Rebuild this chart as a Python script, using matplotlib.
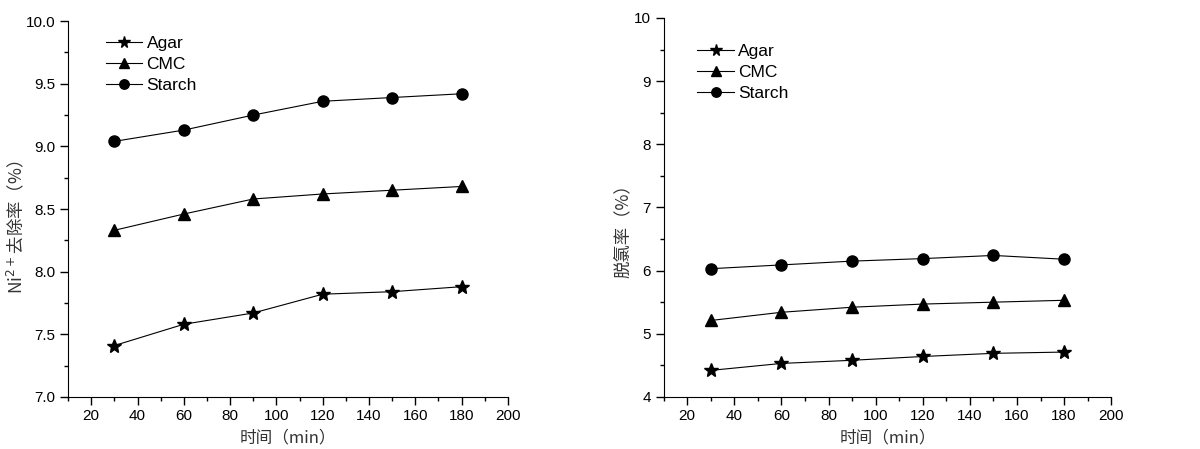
import matplotlib
matplotlib.use("Agg")
import matplotlib.pyplot as plt
from matplotlib.ticker import MultipleLocator

plt.rcParams['font.family'] = ['Liberation Sans', 'DejaVu Sans']

# --- datos ---
time_min = [30, 60, 90, 120, 150, 180]
series_names = ["Agar", "CMC", "Starch"]

ni_agar = [7.41, 7.58, 7.67, 7.82, 7.84, 7.88]
ni_cmc = [8.33, 8.46, 8.58, 8.62, 8.65, 8.68]
ni_starch = [9.04, 9.13, 9.25, 9.36, 9.39, 9.42]

cl_agar = [4.42, 4.53, 4.58, 4.64, 4.69, 4.71]
cl_cmc = [5.21, 5.34, 5.42, 5.47, 5.50, 5.53]
cl_starch = [6.03, 6.09, 6.15, 6.19, 6.24, 6.18]

markers = {"Agar": ("*", 10), "CMC": ("^", 8), "Starch": ("o", 8)}
cjk = ['Noto Sans CJK SC', 'DejaVu Sans']

fig = plt.figure(figsize=(12, 4.49), dpi=100)
ax1 = fig.add_axes([0.0567, 0.116, 0.3666, 0.837])
ax2 = fig.add_axes([0.553, 0.116, 0.373, 0.844])


def draw_panel(ax, values, ylim, ymajor, yminor, ylabel, yfmt, leg_anchor, label_x):
    for name, vals in zip(series_names, values):
        m, ms = markers[name]
        ax.plot(time_min, vals, '-', marker=m, markersize=ms, color='black',
                linewidth=0.8, label=name)
    ax.set_xlim(10, 200)
    ax.set_ylim(*ylim)
    ax.xaxis.set_major_locator(MultipleLocator(20))
    ax.xaxis.set_minor_locator(MultipleLocator(10))
    ax.yaxis.set_major_locator(MultipleLocator(ymajor))
    ax.yaxis.set_minor_locator(MultipleLocator(yminor))
    ax.yaxis.set_major_formatter(yfmt)
    for side in ('top', 'right'):
        ax.spines[side].set_visible(False)
    ax.tick_params(which='major', direction='out', length=6, width=1, labelsize=11, pad=3)
    ax.tick_params(which='minor', direction='out', length=3, width=1)
    ax.set_xlabel("时间（min）", family=cjk, fontsize=12, color='#333333', labelpad=4)
    ax.set_ylabel(ylabel, family=cjk, fontsize=12.5, color='#333333')
    ax.yaxis.set_label_coords(label_x, 0.45)
    ax.legend(loc='upper left', frameon=False, fontsize=12.5, handlelength=2.1,
              handletextpad=0.25, labelspacing=0.35, borderaxespad=0.0,
              bbox_to_anchor=leg_anchor, markerscale=0.85)


draw_panel(ax1, [ni_agar, ni_cmc, ni_starch], (7.0, 10.0), 0.5, 0.25,
           "Ni$^{2+}$去除率（%）", '{x:.1f}', (0.07, 0.98), -0.095)
draw_panel(ax2, [cl_agar, cl_cmc, cl_starch], (4, 10), 1, 0.5,
           "脱氯率（%）", '{x:.0f}', (0.06, 0.95), -0.072)

fig.savefig("out.png", dpi=100)
